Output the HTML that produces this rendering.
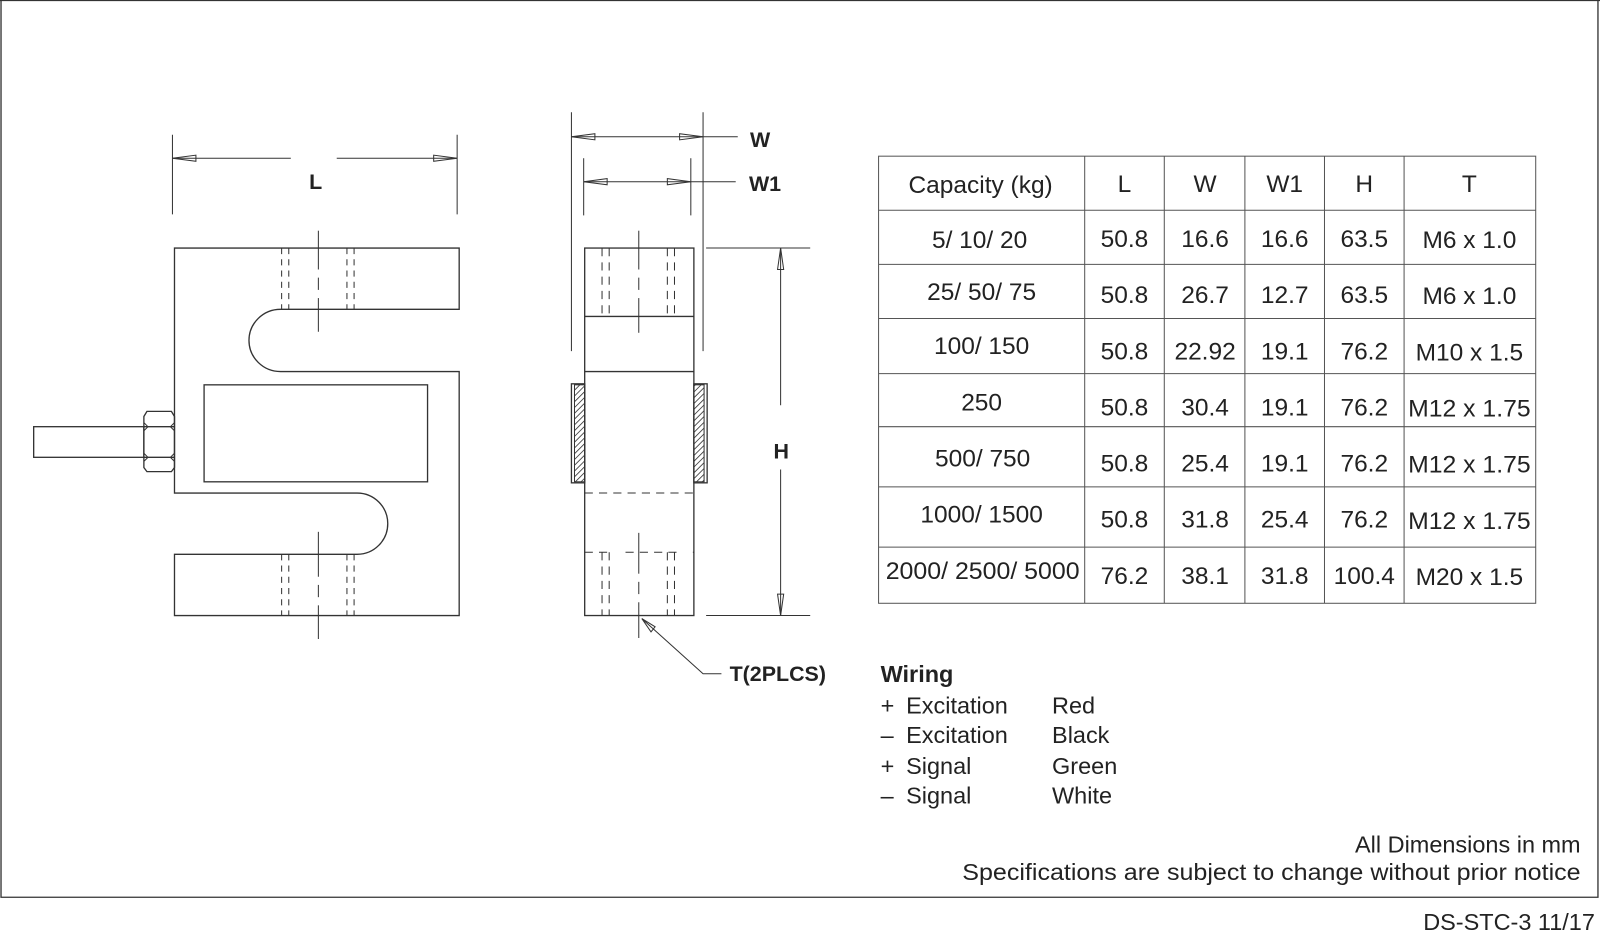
<!DOCTYPE html>
<html><head><meta charset="utf-8"><style>
html,body{margin:0;padding:0;background:#fff;}
svg{display:block;}
text{font-family:"Liberation Sans",sans-serif;fill:#222;}
</style></head><body>
<svg width="1600" height="933" viewBox="0 0 1568 914" preserveAspectRatio="none" xmlns="http://www.w3.org/2000/svg">
<g fill="none" stroke="#333" stroke-width="1.3">
<polyline points="1,0 1,879 1566,879 1566,0"/>
<line x1="0" y1="0.5" x2="1568" y2="0.5"/>

<path d="M171,243 H450 V303 H275 A31,30.5 0 0 0 275,364 H450 V603 H171 V543 H350 A30,30 0 0 0 350,483 H171 Z"/>
<rect x="200" y="377" width="219" height="95"/>
<rect x="33" y="418" width="108" height="30"/>
<path d="M141,418 L141,408 L144,403 L168,403 L171,408 L171,458 L168,462 L144,462 L141,458 Z"/>
<line x1="141" y1="418" x2="171" y2="418"/><line x1="141" y1="448" x2="171" y2="448"/>
<path d="M141,414 L145,418 L141,422 M171,414 L167,418 L171,422 M141,444 L145,448 L141,452 M171,444 L167,448 L171,452" stroke-width="1"/>
<g stroke-dasharray="6,5" stroke-width="1">
<line x1="276" y1="243" x2="276" y2="303"/><line x1="283" y1="243" x2="283" y2="303"/>
<line x1="340" y1="243" x2="340" y2="303"/><line x1="347" y1="243" x2="347" y2="303"/>
<line x1="276" y1="543" x2="276" y2="603"/><line x1="283" y1="543" x2="283" y2="603"/>
<line x1="340" y1="543" x2="340" y2="603"/><line x1="347" y1="543" x2="347" y2="603"/>
</g>
<g stroke-width="1">
<line x1="312" y1="226" x2="312" y2="264"/><line x1="312" y1="272" x2="312" y2="284"/><line x1="312" y1="292" x2="312" y2="325"/>
<line x1="312" y1="521" x2="312" y2="565"/><line x1="312" y1="573" x2="312" y2="585"/><line x1="312" y1="593" x2="312" y2="626"/>
</g>
<g stroke-width="1">
<line x1="169" y1="132" x2="169" y2="210"/><line x1="448" y1="132" x2="448" y2="210"/>
<line x1="169" y1="155" x2="285" y2="155"/><line x1="330" y1="155" x2="448" y2="155"/>
<path d="M169,155 L192,152 L192,158 Z M448,155 L425,152 L425,158 Z"/>
</g>

<rect x="573" y="243" width="107" height="360"/>
<line x1="573" y1="310" x2="680" y2="310"/><line x1="573" y1="364" x2="680" y2="364"/>
<g stroke-dasharray="8,6" stroke-width="1">
<line x1="573" y1="483" x2="680" y2="483"/><line x1="573" y1="541" x2="600" y2="541"/><line x1="613" y1="541" x2="666" y2="541"/><line x1="679" y1="541" x2="680" y2="541"/>
<line x1="590" y1="243" x2="590" y2="310"/><line x1="597" y1="243" x2="597" y2="310"/>
<line x1="654" y1="243" x2="654" y2="310"/><line x1="661" y1="243" x2="661" y2="310"/>
<line x1="590" y1="541" x2="590" y2="603"/><line x1="597" y1="541" x2="597" y2="603"/>
<line x1="654" y1="541" x2="654" y2="603"/><line x1="661" y1="541" x2="661" y2="603"/>
</g>
<g stroke-width="1">
<line x1="626" y1="226" x2="626" y2="264"/><line x1="626" y1="272" x2="626" y2="284"/><line x1="626" y1="292" x2="626" y2="326"/>
<line x1="626" y1="522" x2="626" y2="562"/><line x1="626" y1="570" x2="626" y2="582"/><line x1="626" y1="590" x2="626" y2="625"/>
</g>
<defs><pattern id="h" width="4" height="4" patternUnits="userSpaceOnUse" patternTransform="rotate(45)"><line x1="0" y1="0" x2="0" y2="4" stroke="#333" stroke-width="1.6"/></pattern></defs>
<rect x="563" y="377" width="10" height="95" fill="url(#h)" stroke-width="1"/>
<rect x="560" y="376" width="13" height="97"/>
<rect x="680" y="376" width="13" height="97"/>
<rect x="680" y="377" width="10" height="95" fill="url(#h)" stroke-width="1"/>
<g stroke-width="1">
<line x1="560" y1="110" x2="560" y2="344"/><line x1="689" y1="110" x2="689" y2="344"/>
<line x1="560" y1="134" x2="723" y2="134"/>
<path d="M560,134 L583,131 L583,137 Z M689,134 L666,131 L666,137 Z"/>
<line x1="572" y1="155" x2="572" y2="211"/><line x1="677" y1="155" x2="677" y2="211"/>
<line x1="572" y1="178" x2="721" y2="178"/>
<path d="M572,178 L595,175 L595,181 Z M677,178 L654,175 L654,181 Z"/>
<line x1="692" y1="243" x2="794" y2="243"/><line x1="692" y1="603" x2="794" y2="603"/>
<line x1="765" y1="243" x2="765" y2="397"/><line x1="765" y1="460" x2="765" y2="603"/>
<path d="M765,243 L762,264 L768,264 Z M765,603 L762,582 L768,582 Z"/>
<polyline points="629,606 689,660 707,660"/>
<path d="M629,606 L638,619 L642,614 Z"/>
</g>

<g stroke="#555" stroke-width="1">
<rect x="861" y="153" width="644" height="438"/>
<line x1="1063" y1="153" x2="1063" y2="591"/><line x1="1141" y1="153" x2="1141" y2="591"/>
<line x1="1220" y1="153" x2="1220" y2="591"/><line x1="1298" y1="153" x2="1298" y2="591"/>
<line x1="1376" y1="153" x2="1376" y2="591"/>
<line x1="861" y1="206" x2="1505" y2="206"/><line x1="861" y1="259" x2="1505" y2="259"/>
<line x1="861" y1="312" x2="1505" y2="312"/><line x1="861" y1="366" x2="1505" y2="366"/>
<line x1="861" y1="418" x2="1505" y2="418"/><line x1="861" y1="477" x2="1505" y2="477"/>
<line x1="861" y1="536" x2="1505" y2="536"/>
</g>
</g>

<g font-weight="bold" font-size="21" fill="#111">
<text x="303" y="185">L</text>
<text x="735" y="144">W</text>
<text x="734" y="187">W1</text>
<text x="758" y="449">H</text>
<text x="715" y="667">T(2PLCS)</text>
</g>

<g font-size="24" text-anchor="middle">
<text x="961" y="189">Capacity (kg)</text><text x="1102" y="188">L</text><text x="1181" y="188">W</text><text x="1259" y="188">W1</text><text x="1337" y="188">H</text><text x="1440" y="188">T</text>
<text x="960" y="243">5/ 10/ 20</text>
<text x="962" y="294">25/ 50/ 75</text>
<text x="962" y="347">100/ 150</text>
<text x="962" y="402">250</text>
<text x="963" y="457">500/ 750</text>
<text x="962" y="512">1000/ 1500</text>
<text x="963" y="567" textLength="190" lengthAdjust="spacingAndGlyphs">2000/ 2500/ 5000</text>
</g>
<g font-size="24" text-anchor="middle">
<text x="1102" y="242">50.8</text><text x="1181" y="242">16.6</text><text x="1259" y="242">16.6</text><text x="1337" y="242">63.5</text><text x="1440" y="243">M6 x 1.0</text>
<text x="1102" y="297">50.8</text><text x="1181" y="297">26.7</text><text x="1259" y="297">12.7</text><text x="1337" y="297">63.5</text><text x="1440" y="298">M6 x 1.0</text>
<text x="1102" y="352">50.8</text><text x="1181" y="352">22.92</text><text x="1259" y="352">19.1</text><text x="1337" y="352">76.2</text><text x="1440" y="353">M10 x 1.5</text>
<text x="1102" y="407">50.8</text><text x="1181" y="407">30.4</text><text x="1259" y="407">19.1</text><text x="1337" y="407">76.2</text><text x="1440" y="408" textLength="120" lengthAdjust="spacingAndGlyphs">M12 x 1.75</text>
<text x="1102" y="462">50.8</text><text x="1181" y="462">25.4</text><text x="1259" y="462">19.1</text><text x="1337" y="462">76.2</text><text x="1440" y="463" textLength="120" lengthAdjust="spacingAndGlyphs">M12 x 1.75</text>
<text x="1102" y="517">50.8</text><text x="1181" y="517">31.8</text><text x="1259" y="517">25.4</text><text x="1337" y="517">76.2</text><text x="1440" y="518" textLength="120" lengthAdjust="spacingAndGlyphs">M12 x 1.75</text>
<text x="1102" y="572">76.2</text><text x="1181" y="572">38.1</text><text x="1259" y="572">31.8</text><text x="1337" y="572">100.4</text><text x="1440" y="573">M20 x 1.5</text>
</g>

<g font-size="23" fill="#111">
<text x="863" y="668" font-weight="bold" font-size="23">Wiring</text>
<text x="863" y="699">+</text><text x="888" y="699">Excitation</text><text x="1031" y="699">Red</text>
<text x="863" y="728">–</text><text x="888" y="728">Excitation</text><text x="1031" y="728">Black</text>
<text x="863" y="758">+</text><text x="888" y="758">Signal</text><text x="1031" y="758">Green</text>
<text x="863" y="787">–</text><text x="888" y="787">Signal</text><text x="1031" y="787">White</text>
</g>
<g font-size="23" text-anchor="end">
<text x="1549" y="835">All Dimensions in mm</text>
<text x="1549" y="862" textLength="606" lengthAdjust="spacingAndGlyphs">Specifications are subject to change without prior notice</text>
<text x="1563" y="911">DS-STC-3 11/17</text>
</g>
</svg>
</body></html>
